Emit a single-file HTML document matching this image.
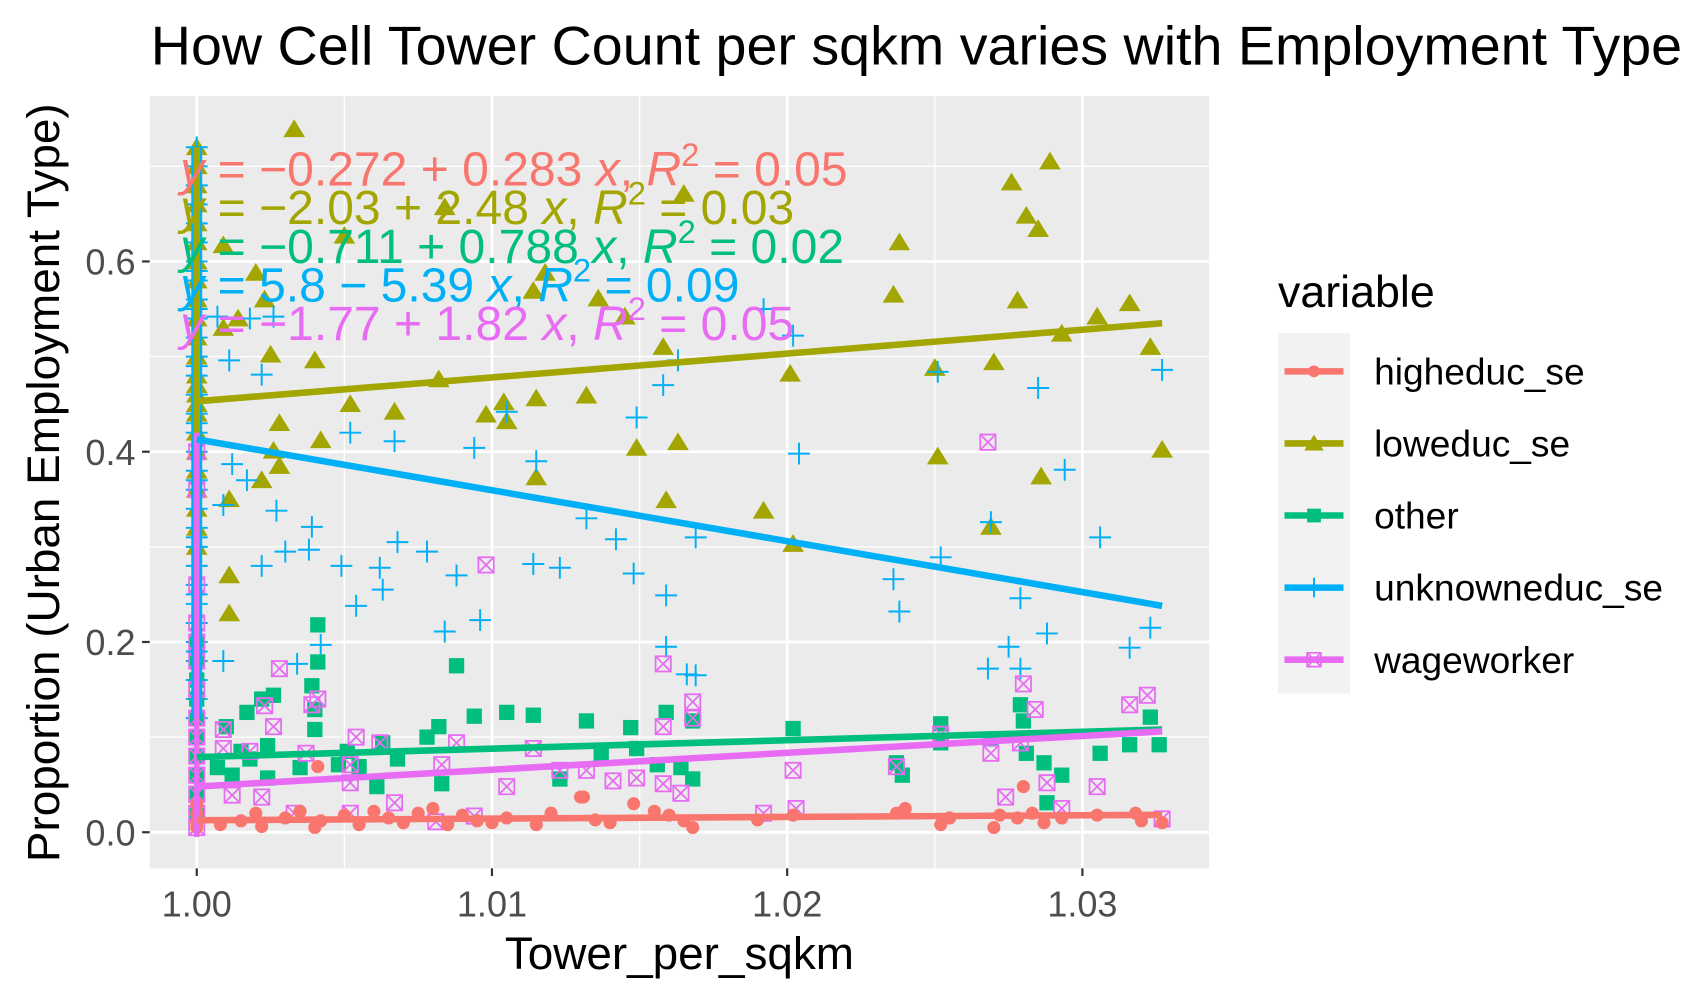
<!DOCTYPE html>
<html><head><meta charset="utf-8"><style>
html,body{margin:0;padding:0;background:#fff;}
svg{display:block;font-family:"Liberation Sans",Arial,sans-serif;}
</style></head><body>
<svg id="chart" width="1704" height="995" viewBox="0 0 1560 911" xmlns="http://www.w3.org/2000/svg">
<rect width="1560" height="911" fill="#fff"/>
<text x="138" y="59" font-size="50" textLength="1402" lengthAdjust="spacingAndGlyphs" fill="#000">How Cell Tower Count per sqkm varies with Employment Type</text>
<rect x="137" y="88" width="970" height="707" fill="#ebebeb"/>
<g id="grid"></g>
<g id="lines"></g>
<g id="marks"></g>
<g id="eqs"></g>
<g id="axes"></g>
<text x="622" y="887" font-size="42" text-anchor="middle" fill="#000">Tower_per_sqkm</text>
<text transform="translate(54,442) rotate(-90)" font-size="42" text-anchor="middle" fill="#000">Proportion (Urban Employment Type)</text>
<g id="legend"></g>
</svg>
<script>
const NS="http://www.w3.org/2000/svg";
const seriesNames=["higheduc_se","loweduc_se","other","unknowneduc_se","wageworker"];
const seriesColors=["#F8766D","#A3A500","#00BF7D","#00B0F6","#E76BF3"];
const xTicks=[1.00,1.01,1.02,1.03];
const xTickLabels=["1.00","1.01","1.02","1.03"];
const yTicks=[0,0.2,0.4,0.6];
const yTickLabels=["0.0","0.2","0.4","0.6"];
const fitX=[1.0,1.0327];
const fitStart=[0.0126,0.453,0.079,0.413,0.048];
const fitEnd=[0.0183,0.535,0.108,0.238,0.106];
const eqTexts=[["−0.272 + 0.283","0.05"],["−2.03 + 2.48","0.03"],["−0.711 + 0.788","0.02"],["5.8 − 5.39","0.09"],["−1.77 + 1.82","0.05"]];
const stackX=1.0;
const highStackY=[0.005,0.01,0.02,0.03];
const lowStackY=[0.72,0.7,0.68,0.66,0.64,0.62,0.6,0.58,0.56,0.54,0.52,0.5,0.48,0.47,0.46,0.45,0.44,0.42,0.4,0.38,0.36,0.34,0.32,0.3];
const otherStackY=[0.02,0.04,0.06,0.08,0.1,0.12,0.14,0.16,0.18,0.2];
const unkStackY=[0.72,0.7,0.68,0.66,0.64,0.62,0.6,0.59,0.58,0.56,0.55,0.54,0.52,0.5,0.49,0.48,0.46,0.44,0.43,0.42,0.4,0.38,0.37,0.36,0.34,0.32,0.31,0.3,0.28,0.26,0.25,0.24,0.22,0.2,0.19,0.18,0.16,0.14,0.12];
const wageStackY=[0.4,0.36,0.26,0.22,0.2,0.18,0.15,0.12,0.1,0.08,0.06,0.04,0.02,0.005];
const highX=[1.0008,1.0015,1.002,1.0022,1.003,1.0035,1.004,1.0042,1.005,1.0055,1.006,1.0065,1.007,1.0075,1.008,1.0085,1.009,1.0095,1.010,1.0105,1.0115,1.012,1.013,1.0135,1.014,1.0148,1.0155,1.016,1.0165,1.0168,1.019,1.0202,1.0237,1.024,1.0252,1.0255,1.027,1.0272,1.0278,1.028,1.0283,1.0287,1.0293,1.0305,1.0318,1.032,1.0327,1.0041,1.0131];
const highY=[0.008,0.012,0.02,0.006,0.015,0.022,0.005,0.012,0.018,0.008,0.022,0.015,0.01,0.02,0.025,0.008,0.018,0.012,0.01,0.015,0.008,0.02,0.037,0.013,0.01,0.03,0.022,0.018,0.012,0.005,0.013,0.018,0.02,0.025,0.008,0.015,0.005,0.018,0.015,0.048,0.02,0.01,0.015,0.018,0.02,0.012,0.01,0.069,0.037];
const lowX=[1.0033,1.0276,1.0289,1.0281,1.0285,1.0238,1.0165,1.0084,1.005,1.0114,1.0236,1.0278,1.0316,1.0305,1.0293,1.027,1.0323,1.0132,1.0115,1.0082,1.0098,1.0052,1.0067,1.0025,1.0201,1.0158,1.0149,1.0163,1.0105,1.0104,1.025,1.0251,1.0327,1.0286,1.0042,1.0028,1.0026,1.0115,1.0028,1.0159,1.0192,1.0202,1.0269,1.0011,1.0011,1.0011,1.0009,1.0014,1.002,1.0009,1.004,1.0145,1.0136,1.0023,1.0022,1.0118];
const lowY=[0.739,0.683,0.705,0.648,0.634,0.62,0.671,0.657,0.627,0.569,0.565,0.559,0.556,0.542,0.524,0.494,0.51,0.459,0.456,0.476,0.439,0.45,0.442,0.502,0.482,0.51,0.404,0.41,0.432,0.452,0.488,0.395,0.402,0.374,0.412,0.43,0.401,0.373,0.385,0.349,0.338,0.303,0.321,0.35,0.27,0.23,0.53,0.54,0.588,0.617,0.496,0.542,0.561,0.56,0.37,0.588];
const otherX=[1.0041,1.0041,1.0039,1.0026,1.0017,1.0022,1.004,1.004,1.001,1.0015,1.0024,1.0018,1.0007,1.0012,1.0024,1.0035,1.0051,1.0055,1.0063,1.0068,1.0061,1.0078,1.0082,1.0088,1.0083,1.0094,1.0105,1.0114,1.0132,1.0123,1.0137,1.0147,1.0149,1.0156,1.0159,1.0168,1.0164,1.0168,1.0202,1.0237,1.0239,1.0252,1.0252,1.0269,1.0279,1.028,1.0287,1.0293,1.0281,1.0306,1.0316,1.0323,1.0326,1.0288,1.0048];
const otherY=[0.218,0.179,0.154,0.144,0.126,0.14,0.129,0.108,0.111,0.085,0.091,0.077,0.068,0.06,0.057,0.068,0.085,0.069,0.094,0.077,0.048,0.1,0.111,0.175,0.051,0.122,0.126,0.123,0.117,0.056,0.083,0.11,0.088,0.071,0.126,0.117,0.068,0.056,0.109,0.073,0.06,0.114,0.094,0.098,0.134,0.117,0.073,0.06,0.083,0.083,0.092,0.121,0.092,0.031,0.071];
const unkX=[1.0158,1.0149,1.0105,1.0115,1.0094,1.0067,1.0052,1.0022,1.0007,1.0018,1.0192,1.0202,1.0163,1.0204,1.0285,1.0251,1.0327,1.0294,1.0306,1.0012,1.0017,1.0027,1.0039,1.003,1.0022,1.0038,1.0068,1.0078,1.0049,1.0062,1.0114,1.0123,1.0132,1.0142,1.0148,1.0169,1.0159,1.0088,1.0096,1.0084,1.0054,1.0063,1.0042,1.0034,1.0009,1.0159,1.0166,1.0169,1.0236,1.0238,1.0252,1.0269,1.0279,1.0288,1.0275,1.0268,1.0279,1.0323,1.0316,1.0026,1.0009,1.0011];
const unkY=[0.47,0.436,0.442,0.39,0.404,0.411,0.42,0.481,0.542,0.54,0.55,0.522,0.496,0.398,0.467,0.484,0.486,0.381,0.31,0.387,0.37,0.338,0.321,0.295,0.28,0.297,0.305,0.295,0.28,0.278,0.282,0.278,0.33,0.308,0.272,0.31,0.249,0.27,0.223,0.211,0.238,0.255,0.197,0.177,0.18,0.195,0.166,0.165,0.266,0.232,0.289,0.326,0.246,0.209,0.195,0.172,0.172,0.215,0.194,0.542,0.344,0.496];
const wageX=[1.0268,1.0098,1.0158,1.0168,1.0168,1.028,1.0284,1.0316,1.0322,1.0028,1.0039,1.0041,1.0026,1.0023,1.0009,1.0018,1.0009,1.0054,1.0062,1.0037,1.0083,1.0088,1.0114,1.0123,1.0105,1.0132,1.0141,1.0149,1.0158,1.0158,1.0164,1.0192,1.0202,1.0203,1.0237,1.0252,1.0269,1.0274,1.0279,1.0288,1.0293,1.0305,1.0327,1.0052,1.0052,1.0067,1.0081,1.0094,1.0033,1.0052,1.0012,1.0022];
const wageY=[0.41,0.281,0.177,0.137,0.12,0.156,0.129,0.134,0.144,0.172,0.134,0.14,0.111,0.133,0.108,0.085,0.088,0.1,0.094,0.083,0.071,0.094,0.088,0.065,0.048,0.065,0.054,0.057,0.111,0.051,0.041,0.02,0.065,0.025,0.069,0.103,0.083,0.037,0.094,0.052,0.025,0.048,0.014,0.071,0.052,0.031,0.011,0.017,0.02,0.02,0.039,0.037];

const X0=137,X1=1107,Y0=88,Y1=795;
const xMin=0.998407,xMax=1.034293,yMin=-0.0379,yMax=0.7738;
function xs(v){return X0+(v-xMin)/(xMax-xMin)*(X1-X0);}
function ys(v){return Y1-(v-yMin)/(yMax-yMin)*(Y1-Y0);}
function mk(tag,attrs,parent){const e=document.createElementNS(NS,tag);for(const k in attrs)e.setAttribute(k,attrs[k]);parent.appendChild(e);return e;}

const grid=document.getElementById('grid');
[1.005,1.015,1.025].forEach(v=>{const l=mk('line',{x1:xs(v),x2:xs(v),y1:Y0,y2:Y1,stroke:'#fff','stroke-width':1.2},grid);

});
[0.1,0.3,0.5,0.7].forEach(v=>{const l=mk('line',{x1:X0,x2:X1,y1:ys(v),y2:ys(v),stroke:'#fff','stroke-width':1.2},grid);

});
xTicks.forEach(v=>{const l=mk('line',{x1:xs(v),x2:xs(v),y1:Y0,y2:Y1,stroke:'#fff','stroke-width':2.5},grid);

});
yTicks.forEach(v=>{const l=mk('line',{x1:X0,x2:X1,y1:ys(v),y2:ys(v),stroke:'#fff','stroke-width':2.5},grid);

});

const axes=document.getElementById('axes');
xTicks.forEach((v,i)=>{
 const t=mk('line',{x1:xs(v),x2:xs(v),y1:Y1,y2:Y1+7,stroke:'#333','stroke-width':2},axes);
 
 
 const tx=mk('text',{x:xs(v),y:Y1+44,'font-size':33,'text-anchor':'middle',fill:'#4d4d4d'},axes);
 tx.textContent=xTickLabels[i];
 
 
});
yTicks.forEach((v,i)=>{
 const t=mk('line',{x1:X0-7,x2:X0,y1:ys(v),y2:ys(v),stroke:'#333','stroke-width':2},axes);
 
 
 const tx=mk('text',{x:X0-13,y:ys(v)+12,'font-size':33,'text-anchor':'end',fill:'#4d4d4d'},axes);
 tx.textContent=yTickLabels[i];
 
 
});

function marker(si,cx,cy,parent,scale){
 const c=seriesColors[si];const s=scale||1;let g=mk('g',{},parent);
 if(si===0){mk('circle',{cx:cx,cy:cy,r:6*s,fill:c},g);}
 else if(si===1){const h=9*s;mk('polygon',{points:`${cx},${cy-h} ${cx-h*1.1},${cy+h*0.8} ${cx+h*1.1},${cy+h*0.8}`,fill:c},g);}
 else if(si===2){const h=7*s;mk('rect',{x:cx-h,y:cy-h,width:2*h,height:2*h,fill:c},g);}
 else if(si===3){const h=10*s;mk('path',{d:`M${cx-h},${cy}H${cx+h}M${cx},${cy-h}V${cy+h}`,stroke:c,'stroke-width':1.8,fill:'none'},g);}
 else {const h=7*s;mk('path',{d:`M${cx-h},${cy-h}h${2*h}v${2*h}h${-2*h}zM${cx-h},${cy-h}L${cx+h},${cy+h}M${cx+h},${cy-h}L${cx-h},${cy+h}`,stroke:c,'stroke-width':1.6,fill:'none'},g);}
 return g;
}
const marks=document.getElementById('marks');
const allX=[highX,lowX,otherX,unkX,wageX];
const allY=[highY,lowY,otherY,unkY,wageY];
const stacks=[highStackY,lowStackY,otherStackY,unkStackY,wageStackY];
const drawOrder=[1,3,2,4,0];
drawOrder.forEach(si=>{
 const g=mk('g',{},marks);
 
 
 allX[si].forEach((xv,i)=>{const m=marker(si,xs(xv),ys(allY[si][i]),g);
  
  });
 stacks[si].forEach(yv=>{const m=marker(si,xs(stackX),ys(yv),g);
  
  });
});
[[3,0.12,0.72,10],[1,0.3,0.72,6],[4,-0.005,0.42,5]].forEach(([si,a,b,w])=>{
 const l=mk('line',{x1:xs(stackX),x2:xs(stackX),y1:ys(a),y2:ys(b),stroke:seriesColors[si],'stroke-width':w},marks);
 
 
});
[0,1,2,3,4].forEach(si=>{
 const l=mk('line',{x1:xs(fitX[0]),x2:xs(fitX[1]),y1:ys(fitStart[si]),y2:ys(fitEnd[si]),stroke:seriesColors[si],'stroke-width':6},marks);
 
 
});
const eqs=document.getElementById('eqs');
eqTexts.forEach((e,si)=>{
 const t=mk('text',{x:165,y:170+35.3*si,'font-size':44,fill:seriesColors[si]},eqs);
 
 
 t.innerHTML=`<tspan font-style="italic">y</tspan> = ${e[0]} <tspan font-style="italic">x</tspan>, <tspan font-style="italic">R</tspan><tspan dy="-18" font-size="30">2</tspan><tspan dy="18"> = ${e[1]}</tspan>`;
});
const leg=document.getElementById('legend');
const lt=mk('text',{x:1170,y:281,'font-size':41,fill:'#000'},leg);
lt.textContent='variable';


const lb=mk('rect',{x:1170,y:305,width:66,height:330,fill:'#f2f2f2'},leg);


seriesNames.forEach((n,si)=>{
 const cy=340+66*si;
 const g=mk('g',{},leg);
 
 
 mk('line',{x1:1176,x2:1230,y1:cy,y2:cy,stroke:seriesColors[si],'stroke-width':6},g);
 marker(si,1203,cy,g,0.9);
 const t=mk('text',{x:1258,y:cy+12,'font-size':34,fill:'#000'},g);
 t.textContent=n;
});
</script>
</body></html>
